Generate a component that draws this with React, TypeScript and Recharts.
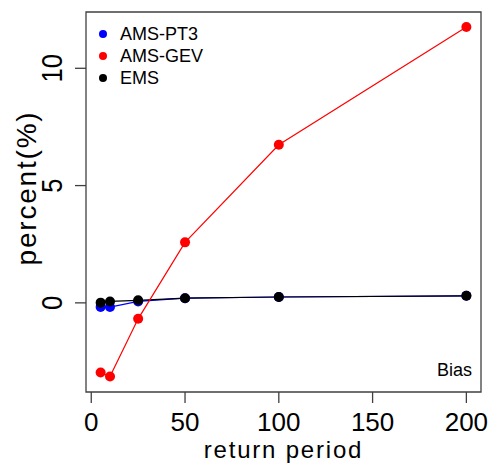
import { LineChart, Line, XAxis, YAxis, ReferenceArea, Label } from 'recharts';

// return periods (years)
const periods = [5, 10, 25, 50, 100, 200];

// bias in percent
const pt3 = [-0.18, -0.18, 0.06, 0.2, 0.25, 0.3];
const gev = [-2.97, -3.14, -0.68, 2.58, 6.74, 11.76];
const ems = [0.01, 0.06, 0.11, 0.2, 0.25, 0.3];

const xTicks = [0, 50, 100, 150, 200];
const yTicks = [0, 5, 10];

// R style 4% padding around the data range
const xDomain: [number, number] = [-2.8, 207.8];
const yDomain: [number, number] = [-3.8, 12.4];

const legendItems = [
  { name: 'AMS-PT3', color: '#0000FF' },
  { name: 'AMS-GEV', color: '#FF0000' },
  { name: 'EMS', color: '#000000' },
];

const data = periods.map((p, i) => ({
  period: p,
  pt3: pt3[i],
  gev: gev[i],
  ems: ems[i],
}));

const FONT = '"Liberation Sans", Arial, Helvetica, sans-serif';
const AXIS = '#404040';

// ── ticks ────────────────────────────────────────────────────────────────────

const XTick = ({ x, y, payload }: any) => (
  <text x={x} y={y + 25.5} textAnchor="middle" fontSize={26} fontFamily={FONT} fill="#000">
    {payload.value}
  </text>
);

// R draws the y labels parallel to the axis, a bit narrower
const YTick = ({ x, y, payload }: any) => (
  <text
    transform={`translate(${x - 11}, ${y}) rotate(-90) scale(0.85, 1)`}
    textAnchor="middle"
    fontSize={30}
    fontFamily={FONT}
    fill="#000"
  >
    {payload.value}
  </text>
);

export default function App() {
  return (
    <div style={{ position: 'absolute', left: 0, top: 0, width: 492, height: 470, background: '#fff' }}>
      <LineChart width={492} height={470} data={data} margin={{ top: 12, right: 11, left: 0, bottom: 0 }}>
        <XAxis
          dataKey="period"
          type="number"
          domain={xDomain}
          ticks={xTicks}
          allowDataOverflow
          height={78}
          axisLine={false}
          tickSize={11}
          tickLine={{ stroke: AXIS, strokeWidth: 1.3 }}
          tick={<XTick />}
        >
          <Label
            content={(p: any) => {
              const vb = p.viewBox;
              return (
                <text
                  x={vb.x + vb.width / 2}
                  y={vb.y + vb.height - 12}
                  textAnchor="middle"
                  fontSize={24}
                  letterSpacing={1.8}
                  fontFamily={FONT}
                  fill="#000"
                >
                  return period
                </text>
              );
            }}
          />
        </XAxis>
        <YAxis
          type="number"
          domain={yDomain}
          ticks={yTicks}
          allowDataOverflow
          width={86}
          axisLine={false}
          tickSize={11}
          tickLine={{ stroke: AXIS, strokeWidth: 1.3 }}
          tick={<YTick />}
        >
          <Label
            content={(p: any) => {
              const vb = p.viewBox;
              const cx = vb.x + 36;
              const cy = vb.y + vb.height / 2 - 14;
              return (
                <text
                  transform={`translate(${cx}, ${cy}) rotate(-90)`}
                  textAnchor="middle"
                  fontSize={28}
                  letterSpacing={1.8}
                  fontFamily={FONT}
                  fill="#000"
                >
                  percent(%)
                </text>
              );
            }}
          />
        </YAxis>

        {/* plot frame */}
        <ReferenceArea
          x1={xDomain[0]}
          x2={xDomain[1]}
          y1={yDomain[0]}
          y2={yDomain[1]}
          fill="none"
          stroke={AXIS}
          strokeWidth={1.3}
          fillOpacity={0}
        />

        <Line
          dataKey="pt3"
          stroke="#0000FF"
          strokeWidth={1.2}
          dot={{ r: 5, fill: '#0000FF', stroke: 'none' }}
          activeDot={false}
          isAnimationActive={false}
        />
        <Line
          dataKey="ems"
          stroke="#000000"
          strokeWidth={1.2}
          dot={{ r: 5, fill: '#000000', stroke: 'none' }}
          activeDot={false}
          isAnimationActive={false}
        />
        <Line
          dataKey="gev"
          stroke="#FF0000"
          strokeWidth={1.2}
          dot={{ r: 5, fill: '#FF0000', stroke: 'none' }}
          activeDot={false}
          isAnimationActive={false}
        />
      </LineChart>

      {/* legend, top left inside the frame */}
      <div style={{ position: 'absolute', left: 99, top: 23, fontFamily: FONT, fontSize: 18 }}>
        {legendItems.map((it) => (
          <div key={it.name} style={{ height: 22, display: 'flex', alignItems: 'center' }}>
            <span
              style={{ width: 8, height: 8, borderRadius: 4, background: it.color, display: 'inline-block' }}
            />
            <span style={{ marginLeft: 13, lineHeight: '22px', color: '#000' }}>{it.name}</span>
          </div>
        ))}
      </div>

      <div
        style={{
          position: 'absolute',
          left: 400,
          width: 72,
          top: 361,
          textAlign: 'right',
          fontFamily: FONT,
          fontSize: 18,
          lineHeight: '18px',
          color: '#000',
        }}
      >
        Bias
      </div>
    </div>
  );
}
